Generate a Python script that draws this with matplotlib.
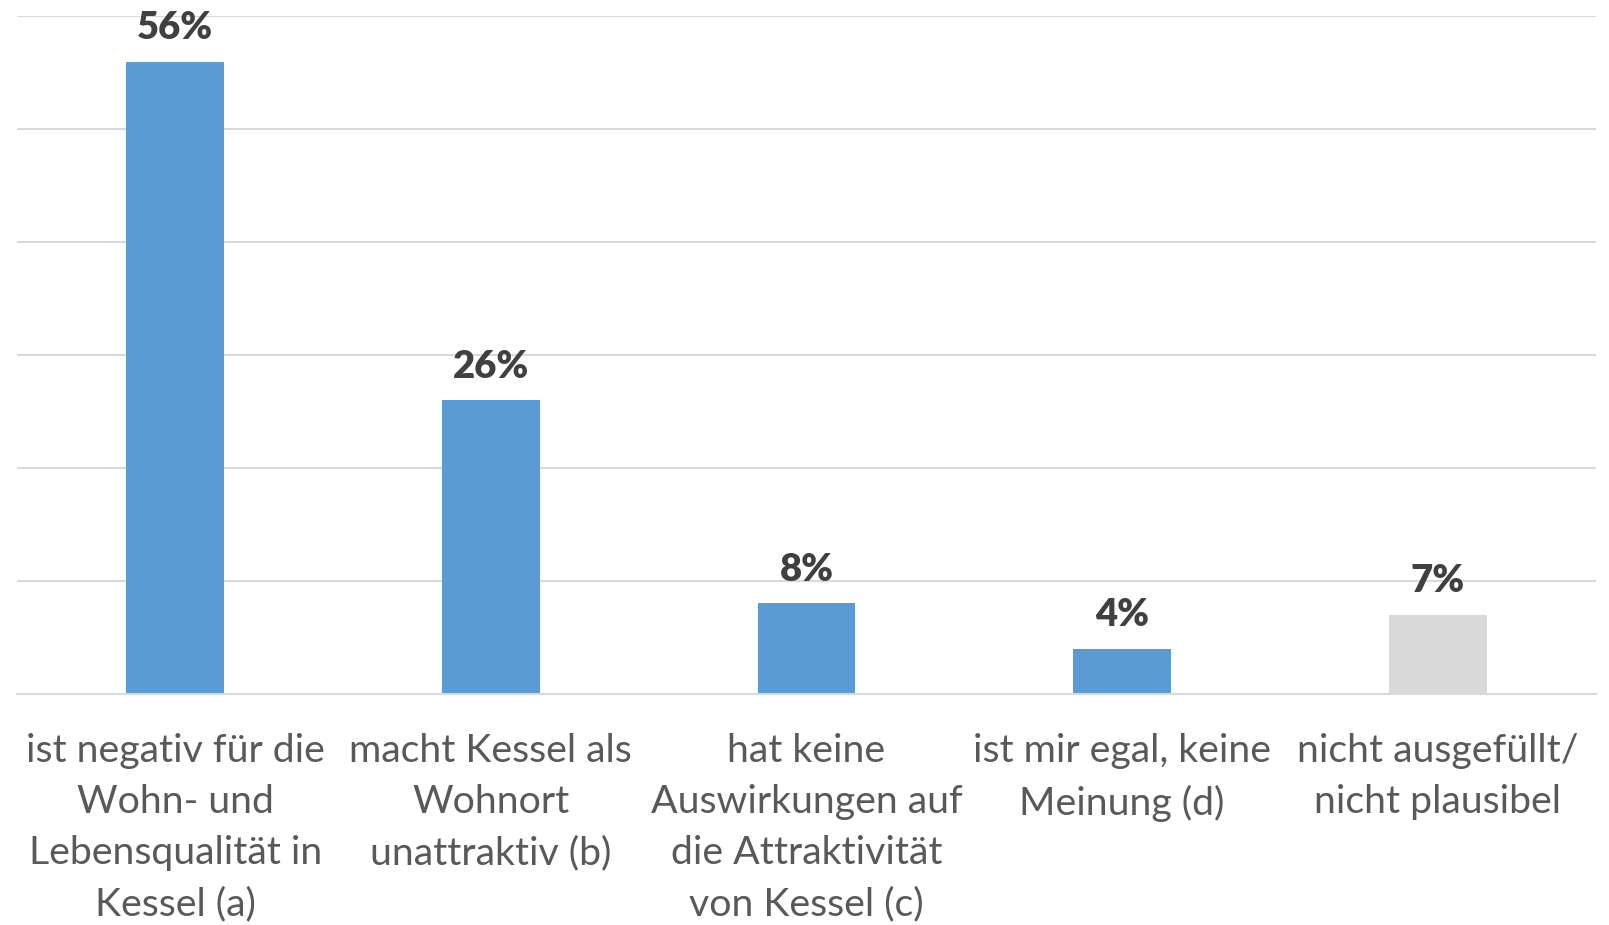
import matplotlib.pyplot as plt
import numpy as np

categories = ["ist negativ für die\nWohn- und\nLebensqualität in\nKessel (a)",
              "macht Kessel als\nWohnort\nunattraktiv (b)",
              "hat keine\nAuswirkungen auf\ndie Attraktivität\nvon Kessel (c)",
              "ist mir egal, keine\nMeinung (d)",
              "nicht ausgefüllt/\nnicht plausibel"]
values = [56, 26, 8, 4, 7]
bar_colors = ["#5B9BD5", "#5B9BD5", "#5B9BD5", "#5B9BD5", "#D9D9D9"]

plt.rcParams["font.family"] = ["Lato", "DejaVu Sans"]

fig = plt.figure(figsize=(16.09, 9.25), dpi=100)
ax = fig.add_axes([0.0108, 0.25, 0.9809, 0.7323])

x = np.arange(len(values))
ax.bar(x, values, width=0.31, color=bar_colors, zorder=2)

for xi, v in zip(x, values):
    ax.annotate(f"{v}%", (xi, v), xytext=(0, 12), textcoords="offset points",
                ha="center", va="bottom", fontsize=27.5, fontweight="heavy",
                color="#404040")

ax.set_xlim(-0.5, 4.5)
ax.set_ylim(0, 60)
ax.set_yticks(np.arange(0, 61, 10))
ax.set_yticklabels([])
ax.yaxis.grid(True, color="#D9D9D9", linewidth=1.5)
ax.set_axisbelow(True)
ax.tick_params(axis="both", length=0)

ax.set_xticks(x)
ax.set_xticklabels(categories, fontsize=28.3, color="#595959", linespacing=1.53)
ax.tick_params(axis="x", pad=28)

for s in ["top", "right", "left"]:
    ax.spines[s].set_visible(False)
ax.spines["bottom"].set_color("#D9D9D9")
ax.spines["bottom"].set_linewidth(1.5)

fig.savefig("out.png", dpi=100)
